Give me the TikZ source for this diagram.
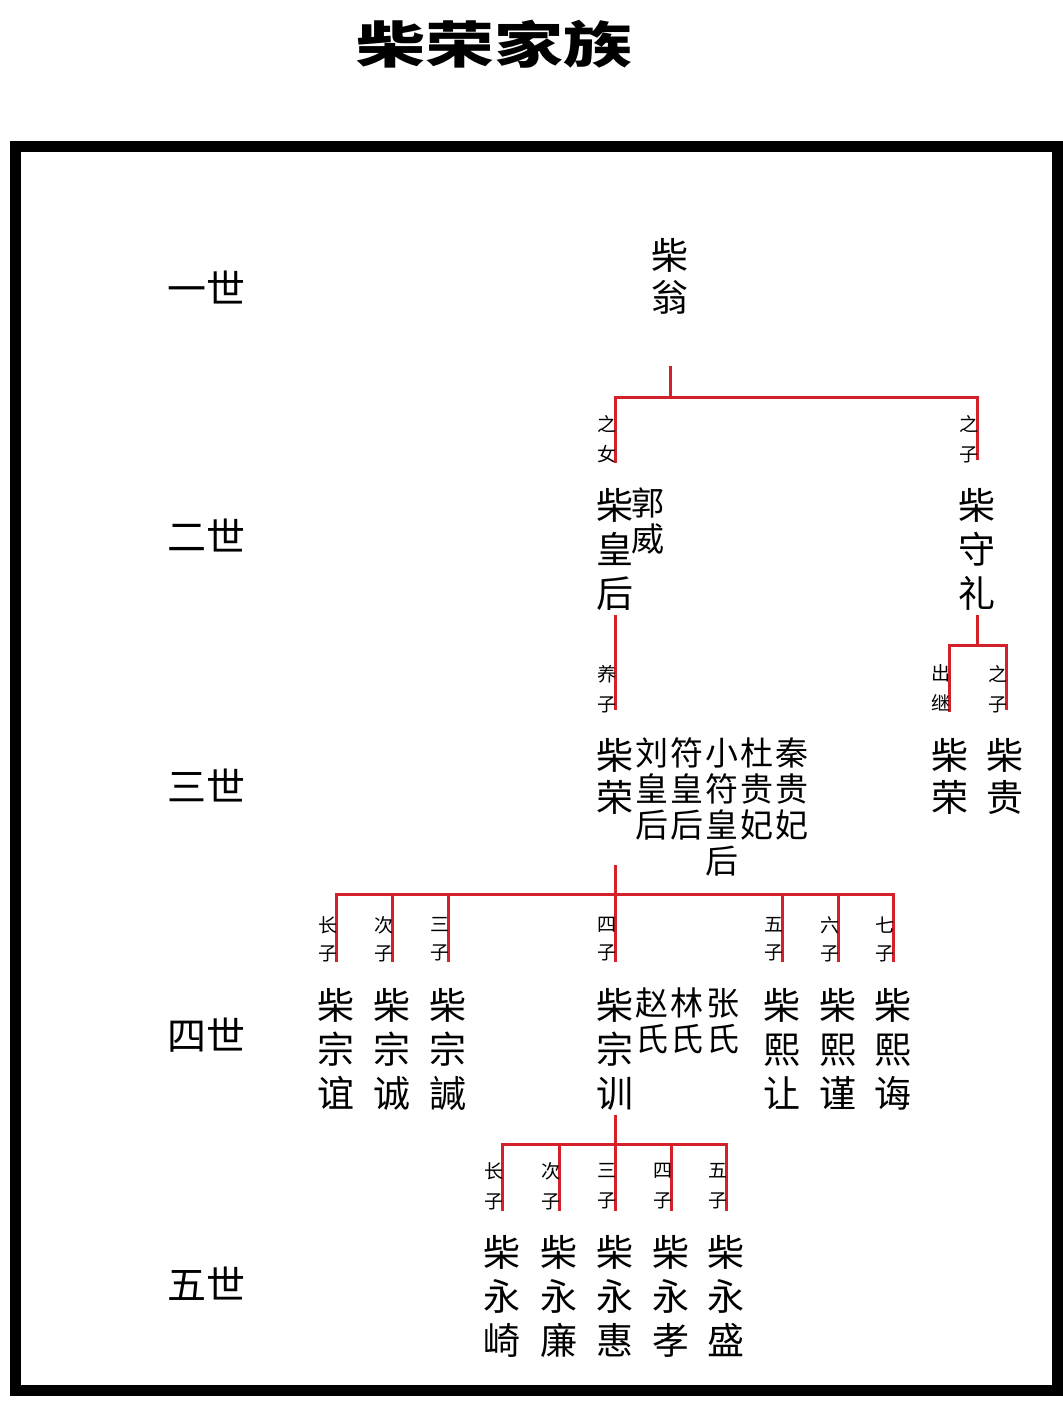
\documentclass[tikz,border=0pt]{standalone}
\usepackage{fontspec}
\newfontfamily\cjk{Noto Sans CJK SC}
\definecolor{tree}{RGB}{212,32,40}
\begin{document}
\begin{tikzpicture}[x=1pt,y=-1pt,
  every node/.style={inner sep=0pt, outer sep=0pt, align=center, text=black},
  nm/.style={font=\cjk\fontsize{37}{44}\selectfont, anchor=north},
  nmt/.style={font=\cjk\fontsize{37}{42}\selectfont, anchor=north},
  sp/.style={font=\cjk\fontsize{33}{36}\selectfont, anchor=north},
  sm/.style={font=\cjk\fontsize{19}{30}\selectfont, anchor=north east},
  gen/.style={font=\cjk\fontsize{39}{44}\selectfont, anchor=center},
  ttl/.style={font=\cjk\bfseries\fontsize{50}{50}\selectfont, anchor=center, xscale=1.38},
  link/.style={draw=tree, line width=3pt}]
\useasboundingbox (0,0) rectangle (1063,1401);
\fill[white] (0,0) rectangle (1063,1401);
% title and frame
\node[ttl] (title) at (494,44) {柴荣家族};
\draw[line width=11pt] (15.5,146.5) rectangle (1057.5,1390.5);
% generation labels
\node[gen] (g1) at (206,288) {一世};
\node[gen] (g2) at (206,536) {二世};
\node[gen] (g3) at (206,785) {三世};
\node[gen] (g4) at (206,1035) {四世};
\node[gen] (g5) at (206,1284) {五世};
% generation 1
\node[nmt] (w1) at (670,238) {柴\\翁};
% generation 2
\node[nm] (h2) at (614.5,488) {柴\\皇\\后};
\node[sp] (gw) at (648,488) {郭\\威};
\node[nm] (sl) at (977,488) {柴\\守\\礼};
% generation 3
\node[nmt] (r3) at (615,738) {柴\\荣};
\node[sp] (sp1) at (652,738) {刘\\皇\\后};
\node[sp] (sp2) at (687,738) {符\\皇\\后};
\node[sp] (sp3) at (722,738) {小\\符\\皇\\后};
\node[sp] (sp4) at (757,738) {杜\\贵\\妃};
\node[sp] (sp5) at (792,738) {秦\\贵\\妃};
\node[nmt] (r3b) at (950,738) {柴\\荣};
\node[nmt] (g3b) at (1005,738) {柴\\贵};
% generation 4
\node[nm] (z1) at (336,988) {柴\\宗\\谊};
\node[nm] (z2) at (392,988) {柴\\宗\\诚};
\node[nm] (z3) at (448,988) {柴\\宗\\諴};
\node[nm] (z4) at (615,988) {柴\\宗\\训};
\node[sp] (zs1) at (652,988) {赵\\氏};
\node[sp] (zs2) at (687,988) {林\\氏};
\node[sp] (zs3) at (723,988) {张\\氏};
\node[nm] (x5) at (782,988) {柴\\熙\\让};
\node[nm] (x6) at (838,988) {柴\\熙\\谨};
\node[nm] (x7) at (893,988) {柴\\熙\\诲};
% generation 5
\node[nm] (y1) at (502,1235) {柴\\永\\崎};
\node[nm] (y2) at (559,1235) {柴\\永\\廉};
\node[nm] (y3) at (615,1235) {柴\\永\\惠};
\node[nm] (y4) at (671,1235) {柴\\永\\孝};
\node[nm] (y5) at (726,1235) {柴\\永\\盛};
% coordinates for connectors
\coordinate (a0) at (670,366); \coordinate (a1) at (670,397);
\coordinate (aL) at (615,397); \coordinate (aR) at (977,397);
\coordinate (aLe) at (615,463); \coordinate (aRe) at (977,460);
\coordinate (b0) at (615,615); \coordinate (b1) at (615,710);
\coordinate (c0) at (977,615); \coordinate (c1) at (977,645);
\coordinate (cL) at (949,645); \coordinate (cR) at (1006,645);
\coordinate (cLe) at (949,712); \coordinate (cRe) at (1006,710);
\coordinate (d0) at (615,865); \coordinate (d1) at (615,894);
\coordinate (e0) at (1115,0);
% connectors
\draw[link] (a0) -- (a1);
\draw[link] (aLe) -- (aL) -- (aR) -- (aRe);
\draw[link] (b0) -- (b1);
\draw[link] (c0) -- (c1);
\draw[link] (cLe) -- (cL) -- (cR) -- (cRe);
\draw[link] (d0) -- (d1);
\draw[link] (336,962) coordinate (f1) -- (336,894) -- (893,894) -- (893,962) coordinate (f7);
\foreach \xx/\nn in {392/f2,448/f3,615/f4,782/f5,838/f6}
  \draw[link] (\xx,894) -- (\xx,962) coordinate (\nn);
\draw[link] (615,1115) coordinate (k0) -- (615,1144) coordinate (k1);
\draw[link] (502,1211) coordinate (m1) -- (502,1144) -- (726,1144) -- (726,1211) coordinate (m5);
\foreach \xx/\nn in {559/m2,615/m3,671/m4}
  \draw[link] (\xx,1144) -- (\xx,1211) coordinate (\nn);
% small relation labels
\node[sm] (l1) at (616,415) {之\\女};
\node[sm] (l2) at (978,415) {之\\子};
\node[sm] (l3) at (616,665) {养\\子};
\node[sm] (l4) at (950,665) {出\\继};
\node[sm] (l5) at (1007,665) {之\\子};
\node[sm, font=\cjk\fontsize{19}{28}\selectfont] (q1) at (337,917) {长\\子};
\node[sm, font=\cjk\fontsize{19}{28}\selectfont] (q2) at (393,917) {次\\子};
\node[sm, font=\cjk\fontsize{19}{28}\selectfont] (q3) at (449,917) {三\\子};
\node[sm, font=\cjk\fontsize{19}{28}\selectfont] (q4) at (616,917) {四\\子};
\node[sm, font=\cjk\fontsize{19}{28}\selectfont] (q5) at (783,917) {五\\子};
\node[sm, font=\cjk\fontsize{19}{28}\selectfont] (q6) at (839,917) {六\\子};
\node[sm, font=\cjk\fontsize{19}{28}\selectfont] (q7) at (894,917) {七\\子};
\node[sm] (p1) at (503,1163) {长\\子};
\node[sm] (p2) at (560,1163) {次\\子};
\node[sm] (p3) at (616,1163) {三\\子};
\node[sm] (p4) at (672,1163) {四\\子};
\node[sm] (p5) at (727,1163) {五\\子};
\end{tikzpicture}
\end{document}
